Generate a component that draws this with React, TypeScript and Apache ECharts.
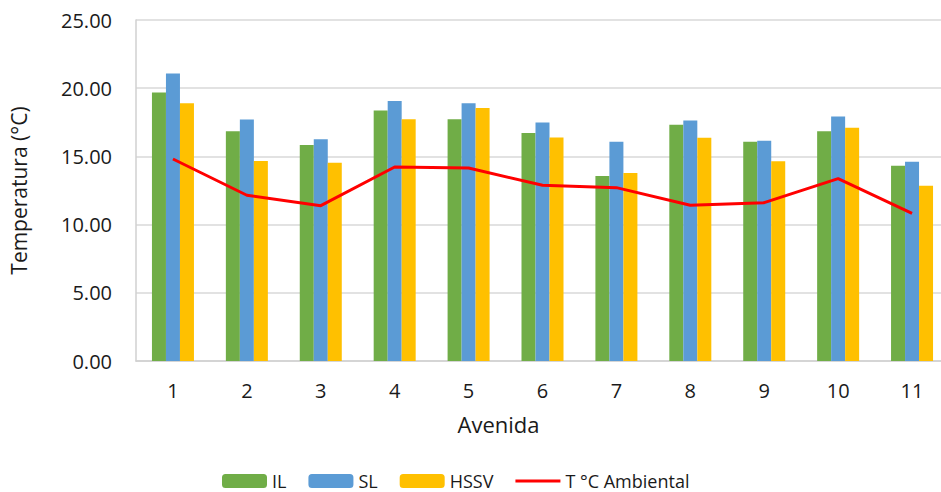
import React, { useEffect, useRef } from "react";
import * as echarts from "echarts";

const categories = ["1", "2", "3", "4", "5", "6", "7", "8", "9", "10", "11"];
const ilValues = [19.69, 16.85, 15.83, 18.37, 17.73, 16.71, 13.56, 17.32, 16.07, 16.85, 14.32];
const slValues = [21.08, 17.71, 16.25, 19.07, 18.9, 17.49, 16.07, 17.64, 16.15, 17.93, 14.61];
const hssvValues = [18.9, 14.66, 14.54, 17.73, 18.54, 16.39, 13.78, 16.37, 14.64, 17.1, 12.85];
const ambientValues = [14.81, 12.15, 11.39, 14.22, 14.15, 12.88, 12.71, 11.42, 11.61, 13.37, 10.83];

const FONT = "'Open Sans', 'Noto Sans', sans-serif";
const TEXT = "#1a1a1a";

export default function App() {
  const ref = useRef<HTMLDivElement>(null);
  useEffect(() => {
    if (!ref.current) return;
    const chart = echarts.init(ref.current, undefined, { renderer: "svg" });
    chart.setOption({
      animation: false,
      backgroundColor: "#ffffff",
      textStyle: { fontFamily: FONT },
      grid: {
        left: 136,
        right: -8,
        top: 20,
        bottom: 131,
        containLabel: false,
        outerBoundsMode: "none",
      },
      legend: {
        top: 467,
        left: 217,
        itemWidth: 45,
        itemHeight: 14,
        itemGap: 22,
        textStyle: { fontFamily: FONT, fontSize: 18, color: TEXT },
        data: [
          { name: "IL" },
          { name: "SL" },
          { name: "HSSV" },
          {
            name: "T °C Ambiental",
            icon: "path://M0,0 L0.01,0 Z M0,5.5 L45,5.5 L45,8.5 L0,8.5 Z M0,14 L0.01,14 Z",
          },
        ],
      },
      xAxis: {
        type: "category",
        data: categories,
        name: "Avenida",
        nameLocation: "middle",
        nameGap: 52,
        nameTextStyle: { fontFamily: FONT, fontSize: 22, color: TEXT, padding: [0, 88, 0, 0] },
        axisLine: { show: true, lineStyle: { color: "#D0D0D0", width: 1.5 } },
        axisTick: { show: false },
        axisLabel: { fontFamily: FONT, fontSize: 20, color: TEXT, margin: 19 },
      },
      yAxis: {
        type: "value",
        min: 0,
        max: 25,
        interval: 5,
        name: "Temperatura (°C)",
        nameLocation: "middle",
        nameRotate: 90,
        nameGap: 107,
        nameTextStyle: { fontFamily: FONT, fontSize: 21, color: TEXT },
        axisLine: { show: true, lineStyle: { color: "#D0D0D0", width: 1.5 } },
        axisTick: { show: false },
        axisLabel: {
          fontFamily: FONT,
          fontSize: 20,
          color: TEXT,
          margin: 24,
          formatter: (v: number) => v.toFixed(2),
        },
        splitLine: { show: true, lineStyle: { color: "#D9D9D9", width: 1.5 } },
      },
      series: [
        {
          name: "IL",
          type: "bar",
          data: ilValues,
          barWidth: 14,
          barGap: "0%",
          itemStyle: { color: "#70AD47" },
        },
        {
          name: "SL",
          type: "bar",
          data: slValues,
          barWidth: 14,
          barGap: "0%",
          itemStyle: { color: "#5B9BD5" },
        },
        {
          name: "HSSV",
          type: "bar",
          data: hssvValues,
          barWidth: 14,
          barGap: "0%",
          itemStyle: { color: "#FFC000" },
        },
        {
          name: "T °C Ambiental",
          type: "line",
          data: ambientValues,
          symbol: "none",
          lineStyle: { color: "#FF0000", width: 3 },
          itemStyle: { color: "#FF0000" },
          z: 5,
        },
      ],
    });
    return () => chart.dispose();
  }, []);
  return (
    <div
      ref={ref}
      style={{ position: "fixed", left: 0, top: 0, width: 941, height: 492, background: "#fff" }}
    />
  );
}
